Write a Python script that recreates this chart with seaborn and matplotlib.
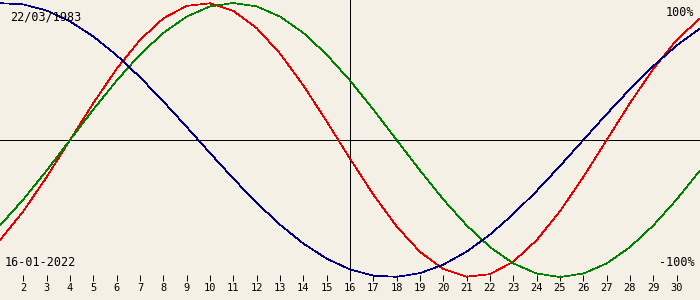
import matplotlib
matplotlib.use("Agg")
import matplotlib.pyplot as plt
import seaborn as sns
import pandas as pd

days = list(range(1, 32))
physical = [-0.7308, -0.5196, -0.2698, 0.0, 0.2698, 0.5196, 0.7308, 0.8879, 0.9791, 0.9977,
            0.9423, 0.8170, 0.6311, 0.3984, 0.1362, -0.1362, -0.3984, -0.6311, -0.8170, -0.9423,
            -0.9977, -0.9791, -0.8879, -0.7308, -0.5196, -0.2698, 0.0, 0.2698, 0.5196, 0.7308, 0.8879]
emotional = [-0.6235, -0.4339, -0.2225, 0.0, 0.2225, 0.4339, 0.6235, 0.7818, 0.9010, 0.9749,
             1.0, 0.9749, 0.9010, 0.7818, 0.6235, 0.4339, 0.2225, 0.0, -0.2225, -0.4339,
             -0.6235, -0.7818, -0.9010, -0.9749, -1.0, -0.9749, -0.9010, -0.7818, -0.6235, -0.4339, -0.2225]
intellectual = [0.9989, 0.9898, 0.9450, 0.8660, 0.7557, 0.6182, 0.4582, 0.2817, 0.0951, -0.0951,
                -0.2817, -0.4582, -0.6182, -0.7557, -0.8660, -0.9450, -0.9898, -0.9989, -0.9718, -0.9096,
                -0.8146, -0.6901, -0.5406, -0.3717, -0.1893, 0.0, 0.1893, 0.3717, 0.5406, 0.6901, 0.8146]
tick_days = list(range(2, 31))
birth_label = "22/03/1983"
date_label = "16-01-2022"
today = 16

series_names = ["physical", "emotional", "intellectual"]
palette = {"physical": "#E00000", "emotional": "#008000", "intellectual": "#000080"}

df = pd.DataFrame({
    "day": days * 3,
    "value": physical + emotional + intellectual,
    "series": [s for s in series_names for _ in days],
})

sns.set_theme(style="white")
plt.rcParams["font.family"] = ["DejaVu Sans Mono"]
plt.rcParams["text.antialiased"] = True
bg = "#F4F0E6"

fig = plt.figure(figsize=(7, 3), dpi=100, facecolor=bg)
ax = fig.add_axes([0, 19 / 300, 1, 281 / 300])
ax.set_facecolor(bg)

ax.axhline(0, color="black", lw=0.7, antialiased=False, zorder=1)
ax.axvline(today, color="black", lw=0.7, antialiased=False, zorder=1)

sns.lineplot(data=df, x="day", y="value", hue="series", palette=palette,
             hue_order=series_names, legend=False, ax=ax, lw=0.5,
             antialiased=False, zorder=2)

ax.set_xlim(1, 31)
ax.set_ylim(-141 / 137, 140 / 137)
for s in ax.spines.values():
    s.set_visible(False)
ax.set_xticks(tick_days)
ax.set_xticklabels([str(d) for d in tick_days])
ax.tick_params(axis="x", direction="in", length=4.5, width=0.7, color="black",
               labelsize=7.5, pad=1.5, labelcolor="black", bottom=True)
ax.set_yticks([])
ax.set_xlabel("")
ax.set_ylabel("")

fs = 8.5
fig.text(10 / 700, 1 - 17 / 300, birth_label, fontsize=fs, ha="left", va="center", color="black")
fig.text(5 / 700, 1 - 262 / 300, date_label, fontsize=fs, ha="left", va="center", color="black")
fig.text(694 / 700, 1 - 12 / 300, "100%", fontsize=fs, ha="right", va="center", color="black")
fig.text(695 / 700, 1 - 262 / 300, "-100%", fontsize=fs, ha="right", va="center", color="black")

fig.savefig("out.png", dpi=100, facecolor=bg)
